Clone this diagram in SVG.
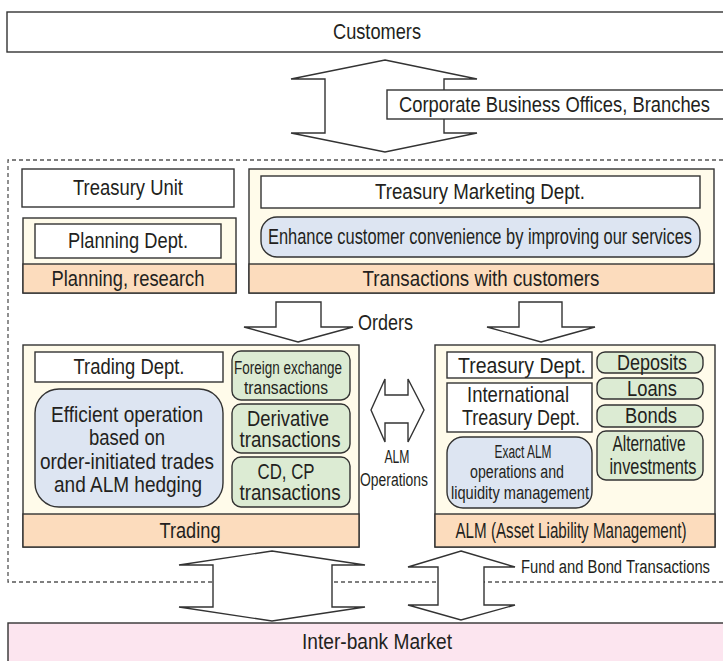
<svg xmlns="http://www.w3.org/2000/svg" width="723" height="661" viewBox="0 0 723 661">
<style>
.t{font-family:'Liberation Sans',Arial,sans-serif;font-size:22px;fill:#231f20;text-anchor:middle}
.s{font-size:18px}
.l{text-anchor:start}
.box{fill:#ffffff;stroke:#333;stroke-width:1.4}
.cont{fill:#fffbea;stroke:#333;stroke-width:1.4}
.band{fill:#fcdcbd;stroke:#333;stroke-width:1.4}
.blue{fill:#dde5f2;stroke:#333;stroke-width:1.4}
.green{fill:#dcebd3;stroke:#333;stroke-width:1.4}
.arr{fill:#ffffff;stroke:#333;stroke-width:1.4;stroke-linejoin:miter}
.dash{fill:none;stroke:#555;stroke-width:1.3;stroke-dasharray:4 3}
</style>
<rect width="723" height="661" fill="#ffffff"/>
<g id="frame"><path class="dash" d="M730,160 H8 V582 H730"/></g>
<g id="connectors">
<polygon class="arr" points="385,60 477,79 444,79 444,133 477,133 385,152 291,133 325,133 325,79 291,79"/>
<polygon class="arr" points="298,342 353,327 321,327 321,302 276,302 276,327 244,327"/>
<polygon class="arr" points="541,342 595,327 562,327 562,302 519,302 519,327 487,327"/>
<polygon class="arr" points="371,410 385,379 385,395 408,395 408,379 424,410 408,442 408,423 385,423 385,442"/>
<polygon class="arr" points="272,551 365,565 332,565 332,607 365,607 272,621 179,607 213,607 213,565 179,565"/>
<polygon class="arr" points="461,551 515,567 484,567 484,605 515,605 461,620 408,605 438,605 438,567 408,567"/>
<text class="t l" x="358" y="330" textLength="55" lengthAdjust="spacingAndGlyphs">Orders</text>
<text class="t s" x="397" y="463" textLength="25" lengthAdjust="spacingAndGlyphs">ALM</text>
<text class="t s" x="394" y="486" textLength="68" lengthAdjust="spacingAndGlyphs">Operations</text>
<text class="t s l" x="521" y="573" textLength="189" lengthAdjust="spacingAndGlyphs">Fund and Bond Transactions</text>
</g>
<g id="customers"><rect class="box" x="7" y="12" width="720" height="40"/><text class="t" x="377" y="39" textLength="88" lengthAdjust="spacingAndGlyphs">Customers</text></g>
<g id="corporate"><rect class="box" x="387" y="90" width="340" height="29"/><text class="t l" x="399" y="112" textLength="311" lengthAdjust="spacingAndGlyphs">Corporate Business Offices, Branches</text></g>
<g id="treasury-unit"><rect class="box" x="22" y="169" width="212" height="38"/><text class="t" x="128" y="195" textLength="110" lengthAdjust="spacingAndGlyphs">Treasury Unit</text></g>
<g id="planning">
<rect class="cont" x="23" y="218" width="213" height="75"/>
<rect class="band" x="23" y="264" width="213" height="29"/>
<rect class="box" x="35" y="224" width="186" height="34"/>
<text class="t" x="128" y="248" textLength="120" lengthAdjust="spacingAndGlyphs">Planning Dept.</text>
<text class="t" x="128" y="286" textLength="153" lengthAdjust="spacingAndGlyphs">Planning, research</text>
</g>
<g id="transactions">
<rect class="cont" x="249" y="169" width="465" height="124"/>
<rect class="band" x="249" y="264" width="465" height="29"/>
<rect class="box" x="261" y="176" width="439" height="32"/>
<text class="t" x="480" y="199" textLength="210" lengthAdjust="spacingAndGlyphs">Treasury Marketing Dept.</text>
<rect class="blue" x="261" y="217" width="439" height="40" rx="16"/>
<text class="t" x="480" y="244" textLength="424" lengthAdjust="spacingAndGlyphs">Enhance customer convenience by improving our services</text>
<text class="t" x="481" y="286" textLength="237" lengthAdjust="spacingAndGlyphs">Transactions with customers</text>
</g>
<g id="trading">
<rect class="cont" x="23" y="345" width="336" height="202"/>
<rect class="band" x="23" y="514" width="336" height="33"/>
<rect class="box" x="35" y="352" width="188" height="30"/>
<text class="t" x="129" y="374" textLength="111" lengthAdjust="spacingAndGlyphs">Trading Dept.</text>
<rect class="blue" x="35" y="389" width="188" height="118" rx="24"/>
<text class="t" x="127" y="422" textLength="152" lengthAdjust="spacingAndGlyphs">Efficient operation</text>
<text class="t" x="127" y="445" textLength="76" lengthAdjust="spacingAndGlyphs">based on</text>
<text class="t" x="127" y="469" textLength="174" lengthAdjust="spacingAndGlyphs">order-initiated trades</text>
<text class="t" x="128" y="492" textLength="148" lengthAdjust="spacingAndGlyphs">and ALM hedging</text>
<rect class="green" x="232" y="351" width="118" height="49" rx="9"/>
<text class="t s" x="288" y="374" textLength="108" lengthAdjust="spacingAndGlyphs">Foreign exchange</text>
<text class="t s" x="286" y="394" textLength="84" lengthAdjust="spacingAndGlyphs">transactions</text>
<rect class="green" x="232" y="404" width="118" height="49" rx="9"/>
<text class="t" x="288" y="426" textLength="82" lengthAdjust="spacingAndGlyphs">Derivative</text>
<text class="t" x="290" y="447" textLength="101" lengthAdjust="spacingAndGlyphs">transactions</text>
<rect class="green" x="232" y="457" width="118" height="50" rx="9"/>
<text class="t" x="286" y="479" textLength="57" lengthAdjust="spacingAndGlyphs">CD, CP</text>
<text class="t" x="290" y="500" textLength="101" lengthAdjust="spacingAndGlyphs">transactions</text>
<text class="t" x="190" y="538" textLength="61" lengthAdjust="spacingAndGlyphs">Trading</text>
</g>
<g id="alm">
<rect class="cont" x="435" y="345" width="280" height="202"/>
<rect class="band" x="435" y="514" width="280" height="33"/>
<rect class="box" x="447" y="352" width="145" height="26"/>
<text class="t" x="522" y="373" textLength="128" lengthAdjust="spacingAndGlyphs">Treasury Dept.</text>
<rect class="box" x="447" y="383" width="145" height="49"/>
<text class="t" x="518" y="402" textLength="102" lengthAdjust="spacingAndGlyphs">International</text>
<text class="t" x="521" y="425" textLength="118" lengthAdjust="spacingAndGlyphs">Treasury Dept.</text>
<rect class="blue" x="447" y="437" width="145" height="71" rx="16"/>
<text class="t s" x="523" y="458" textLength="57" lengthAdjust="spacingAndGlyphs">Exact ALM</text>
<text class="t s" x="517" y="478" textLength="94" lengthAdjust="spacingAndGlyphs">operations and</text>
<text class="t s" x="520" y="499" textLength="138" lengthAdjust="spacingAndGlyphs">liquidity management</text>
<rect class="green" x="597" y="352" width="106" height="21" rx="8"/>
<text class="t" x="652" y="370" textLength="70" lengthAdjust="spacingAndGlyphs">Deposits</text>
<rect class="green" x="597" y="378" width="106" height="21" rx="8"/>
<text class="t" x="652" y="396" textLength="50" lengthAdjust="spacingAndGlyphs">Loans</text>
<rect class="green" x="597" y="405" width="106" height="22" rx="8"/>
<text class="t" x="651" y="423" textLength="52" lengthAdjust="spacingAndGlyphs">Bonds</text>
<rect class="green" x="597" y="431" width="106" height="49" rx="9"/>
<text class="t" x="649" y="451" textLength="73" lengthAdjust="spacingAndGlyphs">Alternative</text>
<text class="t" x="653" y="474" textLength="87" lengthAdjust="spacingAndGlyphs">investments</text>
<text class="t" x="571" y="538" textLength="231" lengthAdjust="spacingAndGlyphs">ALM (Asset Liability Management)</text>
</g>
<g id="interbank"><rect x="8" y="623" width="720" height="45" fill="#fce5ef" stroke="#333" stroke-width="1.4"/><text class="t" x="377" y="649" textLength="150" lengthAdjust="spacingAndGlyphs">Inter-bank Market</text></g>
</svg>
